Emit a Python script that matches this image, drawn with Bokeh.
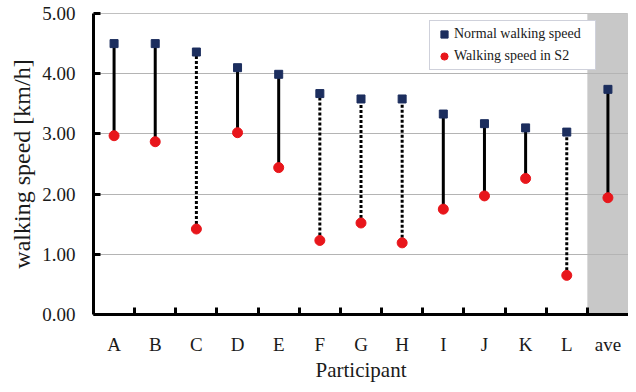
import numpy as np
from bokeh.plotting import figure
from bokeh.models import Range1d, FixedTicker, NumeralTickFormatter, Legend, LegendItem
from bokeh.embed import file_html
from bokeh.resources import INLINE

participants = ["A", "B", "C", "D", "E", "F", "G", "H", "I", "J", "K", "L", "ave"]
normal_speed = [4.50, 4.50, 4.36, 4.10, 3.99, 3.67, 3.58, 3.58, 3.33, 3.17, 3.10, 3.03, 3.74]
s2_speed = [2.97, 2.87, 1.42, 3.02, 2.44, 1.23, 1.52, 1.19, 1.75, 1.97, 2.26, 0.65, 1.94]
dotted = ["C", "F", "G", "H", "L"]
y_ticks = [0, 1, 2, 3, 4, 5]

FONT = "Liberation Serif"
n = len(participants)
xc = np.arange(n) + 0.5

p = figure(width=628, height=384, output_backend="svg", toolbar_location=None,
           x_range=Range1d(0, n), y_range=Range1d(y_ticks[0], y_ticks[-1]),
           min_border_left=93, min_border_right=0, min_border_top=13, min_border_bottom=0)
p.background_fill_color = "white"
p.border_fill_color = "white"
p.outline_line_color = "#c0c0c0"
p.outline_line_width = 1

# shaded average column
ai = participants.index("ave")
p.quad(left=[ai], right=[ai + 1], bottom=[y_ticks[0]], top=[y_ticks[-1]],
       fill_color="#c8c8c8", line_color=None, level="image")

# stems
solid_idx = [i for i, c in enumerate(participants) if c not in dotted]
dot_idx = [i for i, c in enumerate(participants) if c in dotted]
p.segment(x0=[xc[i] for i in solid_idx], y0=[s2_speed[i] for i in solid_idx],
          x1=[xc[i] for i in solid_idx], y1=[normal_speed[i] for i in solid_idx],
          line_color="black", line_width=3)
p.segment(x0=[xc[i] for i in dot_idx], y0=[s2_speed[i] for i in dot_idx],
          x1=[xc[i] for i in dot_idx], y1=[normal_speed[i] for i in dot_idx],
          line_color="black", line_width=3, line_dash="3 2")

r_norm = p.scatter(xc, normal_speed, marker="square", size=8, fill_color="#1c2e5e", line_color="#1c2e5e")
r_s2 = p.scatter(xc, s2_speed, marker="circle", size=10, fill_color="#e8161b", line_color="#e8161b")

# grid and axes
p.xgrid.visible = False
p.ygrid.grid_line_color = "#b4b4b4"
p.ygrid.ticker = FixedTicker(ticks=y_ticks)

xa = p.xaxis[0]
xa.ticker = FixedTicker(ticks=list(xc), minor_ticks=list(np.arange(1, n)))
xa.major_label_overrides = {float(x): c for x, c in zip(xc, participants)}
xa.major_tick_line_color = None
xa.minor_tick_line_color = "black"
xa.minor_tick_line_width = 3
xa.minor_tick_in = 7
xa.minor_tick_out = 0
xa.axis_line_width = 3
xa.major_label_text_font = FONT
xa.major_label_text_font_size = "19px"
xa.major_label_text_color = "#1a1a1a"
xa.major_label_standoff = 13
xa.axis_label = "Participant"
xa.axis_label_text_font = FONT
xa.axis_label_text_font_size = "21px"
xa.axis_label_text_font_style = "normal"
xa.axis_label_text_color = "#1a1a1a"
xa.axis_label_standoff = 0

ya = p.yaxis[0]
ya.ticker = FixedTicker(ticks=y_ticks)
ya.formatter = NumeralTickFormatter(format="0.00")
ya.major_tick_line_width = 3
ya.major_tick_in = 7
ya.major_tick_out = 0
ya.minor_tick_line_color = None
ya.axis_line_width = 3
ya.major_label_text_font = FONT
ya.major_label_text_font_size = "19px"
ya.major_label_text_color = "#1a1a1a"
ya.major_label_standoff = 18
ya.axis_label = "walking speed [km/h]"
ya.axis_label_text_font = FONT
ya.axis_label_text_font_size = "24px"
ya.axis_label_text_font_style = "normal"
ya.axis_label_text_color = "#1a1a1a"
ya.axis_label_standoff = 4

legend = Legend(items=[LegendItem(label="Normal walking speed", renderers=[r_norm]),
                       LegendItem(label="Walking speed in S2", renderers=[r_s2])],
                location=(336, 244), margin=0, padding=4, spacing=4,
                glyph_width=20, glyph_height=18, label_height=18, label_width=137,
                label_standoff=0,
                label_text_font=FONT, label_text_font_size="14px", label_text_color="#1a1a1a",
                border_line_color="#a0a4b8", border_line_width=1,
                background_fill_color="white", background_fill_alpha=1)
p.add_layout(legend, "center")

open("out.html", "w").write(file_html(p, INLINE))
